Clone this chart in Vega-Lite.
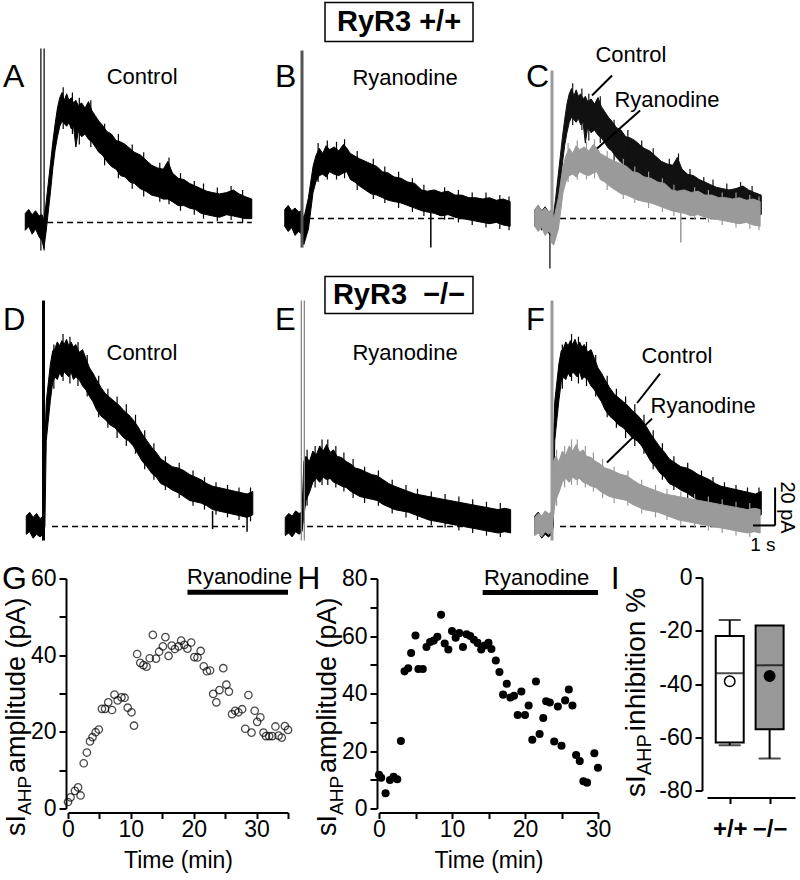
{
"$schema": "https://vega.github.io/schema/vega-lite/v6.json",
"padding": {"left": 0, "top": 1.5, "right": 0, "bottom": 0},
"background": "white",
"config": {
  "view": {"stroke": null},
  "font": "Liberation Sans",
  "text": {"font": "Liberation Sans", "color": "black"},
  "concat": {"spacing": 0},
  "axis": {"domainColor": "black", "tickColor": "black", "labelColor": "black", "titleColor": "black", "domainWidth": 2, "tickWidth": 2, "tickSize": 7, "labelFont": "Liberation Sans", "titleFont": "Liberation Sans", "labelFontSize": 23, "titleFontSize": 23, "titleFontWeight": "normal", "grid": false, "labelPadding": 3}
},
"datasets": {
  "ctrl1": [
    {"t":-0.75,"v":3.5,"v2":-3},{"t":-0.6,"v":5,"v2":-1.5},{"t":-0.45,"v":3,"v2":-4.5},{"t":-0.3,"v":4.5,"v2":-2.5},{"t":-0.15,"v":2.5,"v2":-5.5},{"t":-0.02,"v":3,"v2":-7},{"t":0.06,"v":1,"v2":-10},{"t":0.15,"v":7,"v2":-4},{"t":0.25,"v":15,"v2":4},{"t":0.35,"v":23,"v2":12},{"t":0.45,"v":31,"v2":21},{"t":0.55,"v":38,"v2":28},{"t":0.65,"v":44,"v2":33},{"t":0.75,"v":48,"v2":37},{"t":0.85,"v":50,"v2":39},{"t":0.95,"v":47,"v2":38},{"t":1.05,"v":49.5,"v2":37},{"t":1.15,"v":47,"v2":38.5},{"t":1.25,"v":48,"v2":36},{"t":1.35,"v":46,"v2":37},{"t":1.45,"v":47,"v2":29},{"t":1.55,"v":45,"v2":35},{"t":1.7,"v":46,"v2":33},{"t":1.85,"v":44,"v2":34},{"t":2.0,"v":46.5,"v2":32},{"t":2.15,"v":43,"v2":31},{"t":2.3,"v":41,"v2":29},{"t":2.45,"v":39,"v2":27},{"t":2.6,"v":37.5,"v2":26},{"t":2.8,"v":35,"v2":23.5},{"t":3.0,"v":34,"v2":21.5},{"t":3.2,"v":31.5,"v2":20.5},{"t":3.4,"v":31,"v2":18},{"t":3.6,"v":30,"v2":17.5},{"t":3.8,"v":28.5,"v2":15.5},{"t":4.0,"v":27,"v2":15},{"t":4.25,"v":26,"v2":13},{"t":4.5,"v":24,"v2":12},{"t":4.75,"v":22,"v2":10.5},{"t":5.0,"v":21,"v2":10},{"t":5.25,"v":20.5,"v2":9},{"t":5.45,"v":23.5,"v2":9},{"t":5.65,"v":19,"v2":8},{"t":5.9,"v":17,"v2":6.5},{"t":6.15,"v":16.5,"v2":6.5},{"t":6.4,"v":15,"v2":5.5},{"t":6.65,"v":14,"v2":5},{"t":6.9,"v":13,"v2":3.5},{"t":7.15,"v":12,"v2":3},{"t":7.4,"v":11.5,"v2":2.5},{"t":7.7,"v":11,"v2":2},{"t":8.0,"v":11.5,"v2":3},{"t":8.3,"v":12.5,"v2":2.5},{"t":8.55,"v":11,"v2":2},{"t":8.8,"v":10,"v2":1.5},{"t":9.1,"v":9,"v2":1.5}
  ],
  "sp_c1": [
    {"t":0.9,"v":52,"v2":36},{"t":1.3,"v":50,"v2":34},{"t":1.6,"v":48,"v2":30},{"t":2.1,"v":47,"v2":29},{"t":2.7,"v":38,"v2":22},{"t":3.3,"v":34,"v2":17},{"t":3.9,"v":30,"v2":13},{"t":4.4,"v":27,"v2":10},{"t":5.1,"v":23,"v2":8},{"t":5.5,"v":25,"v2":7},{"t":6.0,"v":19,"v2":4.5},{"t":6.6,"v":16,"v2":3},{"t":7.0,"v":15,"v2":1.5},{"t":7.6,"v":13.5,"v2":0.5},{"t":8.2,"v":14,"v2":1},{"t":8.7,"v":12.5,"v2":0}
  ],
  "ryan1": [
    {"t":-0.75,"v":3.5,"v2":-3},{"t":-0.6,"v":5,"v2":-5},{"t":-0.45,"v":3,"v2":-3.5},{"t":-0.3,"v":4,"v2":-6.5},{"t":-0.15,"v":2.5,"v2":-5},{"t":-0.02,"v":3,"v2":-6},{"t":0.08,"v":0,"v2":-10},{"t":0.18,"v":4,"v2":-7},{"t":0.28,"v":8,"v2":-4},{"t":0.38,"v":14,"v2":3},{"t":0.48,"v":20,"v2":10},{"t":0.6,"v":24,"v2":14},{"t":0.75,"v":27,"v2":16.5},{"t":0.9,"v":25,"v2":17},{"t":1.05,"v":28,"v2":16},{"t":1.2,"v":26.5,"v2":18},{"t":1.4,"v":27.5,"v2":17},{"t":1.6,"v":26,"v2":16.5},{"t":1.8,"v":28.5,"v2":17.5},{"t":1.95,"v":27,"v2":18},{"t":2.1,"v":25,"v2":15},{"t":2.3,"v":24,"v2":14},{"t":2.5,"v":23,"v2":12.5},{"t":2.75,"v":22,"v2":11},{"t":3.0,"v":21,"v2":9.5},{"t":3.25,"v":20,"v2":9},{"t":3.5,"v":18,"v2":8},{"t":3.75,"v":17.5,"v2":7},{"t":4.0,"v":16,"v2":6.5},{"t":4.3,"v":15.5,"v2":6},{"t":4.6,"v":14,"v2":5},{"t":4.9,"v":13.5,"v2":4},{"t":5.2,"v":11,"v2":3},{"t":5.45,"v":10.5,"v2":2.5},{"t":5.75,"v":11,"v2":2},{"t":6.05,"v":10,"v2":1},{"t":6.35,"v":10.5,"v2":1.5},{"t":6.65,"v":9,"v2":0.5},{"t":6.95,"v":9,"v2":0},{"t":7.25,"v":8,"v2":-0.5},{"t":7.55,"v":8,"v2":-1},{"t":7.85,"v":7.5,"v2":-1.5},{"t":8.15,"v":8,"v2":-2},{"t":8.45,"v":7,"v2":-1.5},{"t":8.75,"v":7.5,"v2":-2.5},{"t":9.05,"v":6.5,"v2":-3}
  ],
  "sp_r1": [
    {"t":0.7,"v":29,"v2":14},{"t":1.1,"v":30,"v2":15},{"t":1.5,"v":29.5,"v2":15},{"t":1.85,"v":30.5,"v2":15.5},{"t":2.4,"v":26,"v2":11},{"t":3.1,"v":23,"v2":7.5},{"t":3.6,"v":20,"v2":6},{"t":4.2,"v":18,"v2":4},{"t":4.8,"v":15.5,"v2":2.5},{"t":5.3,"v":13,"v2":1},{"t":6.2,"v":12,"v2":-0.5},{"t":6.8,"v":11,"v2":-1.5},{"t":7.4,"v":10,"v2":-2.5},{"t":8.0,"v":10,"v2":-3.5},{"t":8.6,"v":9,"v2":-4},{"t":9.0,"v":8.5,"v2":-4.5}
  ],
  "ctrl2": [
    {"t":-0.75,"v":4,"v2":-3},{"t":-0.6,"v":5.5,"v2":-2},{"t":-0.45,"v":3.5,"v2":-4.5},{"t":-0.3,"v":5,"v2":-3},{"t":-0.15,"v":3,"v2":-4},{"t":-0.02,"v":4,"v2":-3},{"t":0.06,"v":32,"v2":0},{"t":0.12,"v":48,"v2":33},{"t":0.2,"v":54.5,"v2":40},{"t":0.3,"v":62.5,"v2":48.5},{"t":0.4,"v":67.5,"v2":55.5},{"t":0.5,"v":68.5,"v2":57.5},{"t":0.6,"v":71,"v2":56.5},{"t":0.7,"v":69.5,"v2":59},{"t":0.8,"v":71.5,"v2":57.5},{"t":0.9,"v":70,"v2":59.5},{"t":1.0,"v":72,"v2":58.5},{"t":1.1,"v":69.5,"v2":57.5},{"t":1.2,"v":71,"v2":59.5},{"t":1.3,"v":69,"v2":56.5},{"t":1.4,"v":70,"v2":57.5},{"t":1.55,"v":67,"v2":56.5},{"t":1.7,"v":68,"v2":54},{"t":1.85,"v":64.5,"v2":52.5},{"t":2.0,"v":61,"v2":50},{"t":2.15,"v":59,"v2":48},{"t":2.3,"v":56.5,"v2":45},{"t":2.5,"v":53.5,"v2":42.5},{"t":2.7,"v":51,"v2":41},{"t":2.9,"v":49.5,"v2":39},{"t":3.1,"v":48,"v2":38},{"t":3.3,"v":46.5,"v2":36},{"t":3.5,"v":44.5,"v2":34},{"t":3.7,"v":43,"v2":33},{"t":3.9,"v":41,"v2":31},{"t":4.1,"v":38.5,"v2":28},{"t":4.3,"v":35.5,"v2":25},{"t":4.5,"v":33,"v2":23},{"t":4.7,"v":30.5,"v2":20.5},{"t":4.9,"v":28.5,"v2":19},{"t":5.1,"v":26,"v2":16.5},{"t":5.35,"v":24.5,"v2":15.5},{"t":5.6,"v":23,"v2":14},{"t":5.85,"v":22.5,"v2":13},{"t":6.1,"v":21.5,"v2":11.5},{"t":6.35,"v":20,"v2":10},{"t":6.6,"v":19,"v2":9.5},{"t":6.85,"v":18,"v2":9},{"t":7.1,"v":16.5,"v2":8},{"t":7.35,"v":15.5,"v2":6.5},{"t":7.6,"v":15,"v2":6},{"t":7.85,"v":14.5,"v2":5.5},{"t":8.1,"v":14,"v2":5},{"t":8.35,"v":13.5,"v2":4.5},{"t":8.6,"v":13,"v2":4},{"t":8.85,"v":12.5,"v2":3.5},{"t":9.1,"v":13.5,"v2":4.5}
  ],
  "sp_c2": [
    {"t":0.45,"v":70,"v2":53},{"t":0.85,"v":74,"v2":56},{"t":1.15,"v":73,"v2":55},{"t":1.5,"v":71,"v2":54},{"t":1.9,"v":66,"v2":50},{"t":2.4,"v":58,"v2":42},{"t":2.8,"v":53,"v2":38},{"t":3.2,"v":50,"v2":34},{"t":3.6,"v":47,"v2":31},{"t":4.0,"v":43,"v2":28},{"t":4.4,"v":37,"v2":22},{"t":4.8,"v":32,"v2":18},{"t":5.3,"v":27,"v2":14},{"t":5.9,"v":24.5,"v2":11},{"t":6.5,"v":21.5,"v2":8},{"t":7.0,"v":19,"v2":6.5},{"t":7.5,"v":17,"v2":4.5},{"t":8.0,"v":16,"v2":3.5},{"t":8.5,"v":15,"v2":2.5},{"t":9.0,"v":15,"v2":2}
  ],
  "ryan2": [
    {"t":-0.75,"v":3.5,"v2":-3.5},{"t":-0.6,"v":5,"v2":-2.5},{"t":-0.45,"v":4,"v2":-4},{"t":-0.3,"v":6,"v2":-2},{"t":-0.15,"v":5,"v2":-3},{"t":-0.02,"v":5.5,"v2":-2},{"t":0.06,"v":25,"v2":4},{"t":0.15,"v":27,"v2":10},{"t":0.3,"v":25,"v2":13},{"t":0.45,"v":29,"v2":17},{"t":0.6,"v":27.5,"v2":18.5},{"t":0.75,"v":31,"v2":17},{"t":0.9,"v":29,"v2":19},{"t":1.05,"v":31.5,"v2":18},{"t":1.2,"v":28.5,"v2":18.5},{"t":1.35,"v":29.5,"v2":17},{"t":1.5,"v":27,"v2":16.5},{"t":1.7,"v":26.5,"v2":15.5},{"t":1.9,"v":25,"v2":15},{"t":2.1,"v":24,"v2":13.5},{"t":2.3,"v":22.5,"v2":12.5},{"t":2.5,"v":22,"v2":11.5},{"t":2.75,"v":21,"v2":11},{"t":3.0,"v":20,"v2":10.5},{"t":3.25,"v":19.5,"v2":10},{"t":3.5,"v":18,"v2":8.5},{"t":3.75,"v":16.5,"v2":7.5},{"t":4.0,"v":15.5,"v2":6.5},{"t":4.3,"v":14.5,"v2":6},{"t":4.6,"v":13.5,"v2":5.5},{"t":4.9,"v":12.5,"v2":4.5},{"t":5.2,"v":12,"v2":3.5},{"t":5.5,"v":11.5,"v2":2.5},{"t":5.8,"v":11,"v2":2},{"t":6.1,"v":10.5,"v2":1.5},{"t":6.4,"v":10,"v2":1},{"t":6.7,"v":9.5,"v2":0.5},{"t":7.0,"v":9,"v2":0},{"t":7.3,"v":8.5,"v2":-0.5},{"t":7.6,"v":8,"v2":-1},{"t":7.9,"v":7.5,"v2":-1.5},{"t":8.2,"v":7,"v2":-2},{"t":8.5,"v":6.5,"v2":-2.5},{"t":8.8,"v":7,"v2":-2},{"t":9.05,"v":6.5,"v2":-2.5}
  ],
  "sp_r2": [
    {"t":0.2,"v":29.5,"v2":8},{"t":0.55,"v":31,"v2":15},{"t":0.85,"v":33.5,"v2":16},{"t":1.1,"v":33.5,"v2":16},{"t":1.45,"v":31,"v2":15},{"t":1.8,"v":28.5,"v2":13.5},{"t":2.2,"v":26,"v2":11},{"t":2.7,"v":23,"v2":9},{"t":3.3,"v":21.5,"v2":8},{"t":3.9,"v":18,"v2":5},{"t":4.5,"v":16,"v2":3.5},{"t":5.0,"v":14.5,"v2":2.5},{"t":5.6,"v":13.5,"v2":0.5},{"t":6.2,"v":12.5,"v2":-0.5},{"t":6.8,"v":11.5,"v2":-1.5},{"t":7.4,"v":10.5,"v2":-2.5},{"t":8.0,"v":9.5,"v2":-3.5},{"t":8.6,"v":9,"v2":-4}
  ],
  "g": [
    {"t":0,"v":1.7},{"t":0.4,"v":2.9},{"t":1.1,"v":4.6},{"t":1.6,"v":5.5},{"t":2.0,"v":3.4},{"t":2.5,"v":11.8},{"t":3.0,"v":14.6},{"t":3.5,"v":17.5},{"t":3.9,"v":18.6},{"t":4.4,"v":19.9},{"t":4.9,"v":20.6},{"t":5.4,"v":26},{"t":5.9,"v":26},{"t":6.4,"v":27.7},{"t":7.0,"v":25.7},{"t":7.4,"v":29.7},{"t":7.9,"v":28.2},{"t":8.5,"v":29},{"t":9.0,"v":28.9},{"t":9.5,"v":26.3},{"t":10.1,"v":25.1},{"t":10.5,"v":21.6},{"t":11.0,"v":40.3},{"t":11.5,"v":38},{"t":12.0,"v":37.4},{"t":12.5,"v":37},{"t":13.0,"v":39.2},{"t":13.5,"v":45.3},{"t":14.0,"v":39.1},{"t":14.5,"v":40.9},{"t":15.1,"v":42.3},{"t":15.5,"v":44.7},{"t":16.0,"v":39.8},{"t":16.5,"v":42.5},{"t":17.0,"v":41.6},{"t":17.6,"v":42.3},{"t":18.0,"v":43.8},{"t":18.5,"v":42.7},{"t":19.0,"v":41.7},{"t":19.6,"v":43.3},{"t":20.1,"v":39.5},{"t":20.6,"v":39.4},{"t":21.1,"v":41.1},{"t":21.6,"v":37.1},{"t":22.1,"v":35.8},{"t":22.6,"v":36},{"t":23.1,"v":29.9},{"t":23.6,"v":27.7},{"t":24.1,"v":30.9},{"t":24.7,"v":36.6},{"t":25.2,"v":32.3},{"t":25.6,"v":30.5},{"t":26.1,"v":24.6},{"t":26.6,"v":25.5},{"t":27.1,"v":25.1},{"t":27.7,"v":25.9},{"t":28.2,"v":20.8},{"t":28.7,"v":29.6},{"t":29.2,"v":19.8},{"t":29.7,"v":25.5},{"t":30.1,"v":22.6},{"t":30.6,"v":23.8},{"t":31.1,"v":19.8},{"t":31.5,"v":18.9},{"t":32.0,"v":18.9},{"t":32.5,"v":18.9},{"t":33.0,"v":21.4},{"t":33.5,"v":19},{"t":34.0,"v":18.5},{"t":34.5,"v":21.5},{"t":35.0,"v":20.5}
  ],
  "h": [
    {"t":0,"v":11.7},{"t":0.3,"v":10.7},{"t":0.9,"v":5.3},{"t":1.5,"v":9.9},{"t":2.0,"v":11},{"t":2.5,"v":10.2},{"t":3.0,"v":23.5},{"t":3.5,"v":47.7},{"t":4.0,"v":48.8},{"t":4.4,"v":54.1},{"t":5.0,"v":60.2},{"t":5.4,"v":48.5},{"t":6.0,"v":48.5},{"t":6.5,"v":56.2},{"t":7.0,"v":57.9},{"t":7.5,"v":58.4},{"t":8.0,"v":59.7},{"t":8.5,"v":67.4},{"t":9.0,"v":57.4},{"t":9.5,"v":55.3},{"t":10.0,"v":61.7},{"t":10.5,"v":59.4},{"t":11.0,"v":61},{"t":11.5,"v":56.2},{"t":12.0,"v":60.6},{"t":12.5,"v":60},{"t":13.0,"v":58.7},{"t":13.5,"v":57.6},{"t":14.0,"v":55.3},{"t":14.5,"v":56.7},{"t":15.0,"v":57.6},{"t":15.4,"v":55.5},{"t":16.0,"v":51.5},{"t":16.5,"v":47.5},{"t":17.0,"v":39.6},{"t":17.5,"v":43.4},{"t":18.0,"v":38.6},{"t":18.5,"v":39.2},{"t":19.0,"v":32.5},{"t":19.5,"v":40.7},{"t":20.0,"v":32.5},{"t":20.5,"v":35.8},{"t":21.0,"v":23.9},{"t":21.5,"v":44.2},{"t":22.0,"v":25.9},{"t":22.5,"v":31.5},{"t":22.9,"v":37.3},{"t":23.4,"v":36.9},{"t":24.0,"v":23.3},{"t":24.5,"v":35.5},{"t":25.0,"v":21.8},{"t":25.5,"v":37.6},{"t":26.0,"v":41.4},{"t":26.5,"v":35.8},{"t":27.0,"v":18.6},{"t":27.5,"v":16.5},{"t":28.0,"v":9.5},{"t":28.5,"v":9.0},{"t":29.5,"v":19.2},{"t":30.0,"v":14.2}
  ]
},
"vconcat": [
  {"hconcat": [
    {"width": 325, "height": 39, "data": {"values": []}, "mark": "point"},
    {"width": 148, "height": 39, "view": {"stroke": "black", "strokeWidth": 1.5}, "data": {"values": [{"lab": "RyR3 +/+"}]}, "mark": {"type": "text", "fontSize": 29, "fontWeight": "bold", "baseline": "middle"}, "encoding": {"text": {"field": "lab"}}}
  ], "spacing": 0, "bounds": "flush", "align": "each"},
  {"hconcat": [
    {"width": 265, "height": 232,
     "encoding": {
       "x": {"field": "t", "type": "quantitative", "scale": {"domain": [-1.848, 9.674], "nice": false, "zero": false}, "axis": null},
       "y": {"field": "v", "type": "quantitative", "scale": {"domain": [-20.0, 69.23], "nice": false, "zero": false}, "axis": null}},
     "layer": [
       {"data": {"values": [{"t": 0.2, "t2": 9.1, "v": 0}]}, "mark": {"type": "rule", "strokeDash": [6, 4], "strokeWidth": 1.5, "color": "black"}, "encoding": {"x2": {"field": "t2"}}},
       {"data": {"name": "ctrl1"}, "mark": {"type": "area", "color": "black", "stroke": "black", "strokeWidth": 1}, "encoding": {"y2": {"field": "v2"}}},
       {"data": {"name": "sp_c1"}, "mark": {"type": "rule", "strokeWidth": 1.2, "color": "black"}, "encoding": {"y2": {"field": "v2"}}},
       {"data": {"values": [{"t": -0.07, "v": 66.9, "v2": -10.8}, {"t": 0.07, "v": 66.9, "v2": -10.8}]}, "mark": {"type": "rule", "strokeWidth": 1.2, "color": "black"}, "encoding": {"y2": {"field": "v2"}}},
       {"data": {"values": [{"t": 4.33, "v": 55.8, "label": "Control"}]}, "mark": {"type": "text", "fontSize": 22, "baseline": "middle"}, "encoding": {"text": {"field": "label"}}},
       {"data": {"values": [{"t": -1.72, "v": 52.1, "label": "A"}]}, "mark": {"type": "text", "fontSize": 32, "align": "left", "baseline": "alphabetic"}, "encoding": {"text": {"field": "label"}}}
     ]},
    {"width": 255, "height": 232,
     "encoding": {
       "x": {"field": "t", "type": "quantitative", "scale": {"domain": [-1.609, 9.478], "nice": false, "zero": false}, "axis": null},
       "y": {"field": "v", "type": "quantitative", "scale": {"domain": [-21.54, 67.69], "nice": false, "zero": false}, "axis": null}},
     "layer": [
       {"data": {"values": [{"t": 0.26, "t2": 9.05, "v": 0}]}, "mark": {"type": "rule", "strokeDash": [6, 4], "strokeWidth": 1.5, "color": "black"}, "encoding": {"x2": {"field": "t2"}}},
       {"data": {"name": "ryan1"}, "mark": {"type": "area", "color": "black", "stroke": "black", "strokeWidth": 1}, "encoding": {"y2": {"field": "v2"}}},
       {"data": {"name": "sp_r1"}, "mark": {"type": "rule", "strokeWidth": 1.2, "color": "black"}, "encoding": {"y2": {"field": "v2"}}},
       {"data": {"values": [{"t": 0, "v": 64.6, "v2": -11.2}]}, "mark": {"type": "rule", "strokeWidth": 3, "color": "#555555"}, "encoding": {"y2": {"field": "v2"}}},
       {"data": {"values": [{"t": 5.6, "v": 3, "v2": -11.2}]}, "mark": {"type": "rule", "strokeWidth": 1.5, "color": "black"}, "encoding": {"y2": {"field": "v2"}}},
       {"data": {"values": [{"t": 4.48, "v": 54.2, "label": "Ryanodine"}]}, "mark": {"type": "text", "fontSize": 22, "baseline": "middle"}, "encoding": {"text": {"field": "label"}}},
       {"data": {"values": [{"t": -1.17, "v": 50.6, "label": "B"}]}, "mark": {"type": "text", "fontSize": 32, "align": "left", "baseline": "alphabetic"}, "encoding": {"text": {"field": "label"}}}
     ]},
    {"width": 280, "height": 232,
     "encoding": {
       "x": {"field": "t", "type": "quantitative", "scale": {"domain": [-1.391, 10.783], "nice": false, "zero": false}, "axis": null},
       "y": {"field": "v", "type": "quantitative", "scale": {"domain": [-21.54, 67.69], "nice": false, "zero": false}, "axis": null}},
     "layer": [
       {"data": {"values": [{"t": 0.35, "t2": 9.05, "v": 0}]}, "mark": {"type": "rule", "strokeDash": [6, 4], "strokeWidth": 1.5, "color": "black"}, "encoding": {"x2": {"field": "t2"}}},
       {"data": {"values": [{"t": -0.09, "v": 3, "v2": -19.2}]}, "mark": {"type": "rule", "strokeWidth": 1.2, "color": "black"}, "encoding": {"y2": {"field": "v2"}}},
       {"data": {"name": "ctrl1"}, "mark": {"type": "area", "color": "#111111", "stroke": "#111111", "strokeWidth": 1}, "encoding": {"y2": {"field": "v2"}}},
       {"data": {"name": "sp_c1"}, "mark": {"type": "rule", "strokeWidth": 1.2, "color": "#111111"}, "encoding": {"y2": {"field": "v2"}}},
       {"data": {"name": "ryan1"}, "mark": {"type": "area", "color": "#9a9a9a", "stroke": "#9a9a9a", "strokeWidth": 1}, "encoding": {"y2": {"field": "v2"}}},
       {"data": {"name": "sp_r1"}, "mark": {"type": "rule", "strokeWidth": 1.2, "color": "#9a9a9a"}, "encoding": {"y2": {"field": "v2"}}},
       {"data": {"values": [{"t": 0, "v": 56.9, "v2": -9.6}]}, "mark": {"type": "rule", "strokeWidth": 3, "color": "#9a9a9a"}, "encoding": {"y2": {"field": "v2"}}},
       {"data": {"values": [{"t": 5.6, "v": 3, "v2": -9.2}]}, "mark": {"type": "rule", "strokeWidth": 1.5, "color": "#9a9a9a"}, "encoding": {"y2": {"field": "v2"}}},
       {"data": {"values": [{"t": 2.61, "v": 55.0, "t2": 1.74, "v2": 47.3}, {"t": 3.83, "v": 41.5, "t2": 1.96, "v2": 26.9}]}, "mark": {"type": "rule", "strokeWidth": 2, "color": "black"}, "encoding": {"x2": {"field": "t2"}, "y2": {"field": "v2"}}},
       {"data": {"values": [{"t": 3.43, "v": 62.7, "label": "Control"}, {"t": 5.0, "v": 45.4, "label": "Ryanodine"}]}, "mark": {"type": "text", "fontSize": 22, "baseline": "middle"}, "encoding": {"text": {"field": "label"}}},
       {"data": {"values": [{"t": -1.13, "v": 50.6, "label": "C"}]}, "mark": {"type": "text", "fontSize": 32, "align": "left", "baseline": "alphabetic"}, "encoding": {"text": {"field": "label"}}}
     ]}
  ], "spacing": 0, "bounds": "flush", "align": "each"},
  {"hconcat": [
    {"width": 265, "height": 286,
     "encoding": {
       "x": {"field": "t", "type": "quantitative", "scale": {"domain": [-1.891, 9.630], "nice": false, "zero": false}, "axis": null},
       "y": {"field": "v", "type": "quantitative", "scale": {"domain": [-13.08, 96.92], "nice": false, "zero": false}, "axis": null}},
     "layer": [
       {"data": {"values": [{"t": 0.37, "t2": 8.76, "v": 0}]}, "mark": {"type": "rule", "strokeDash": [6, 4], "strokeWidth": 1.5, "color": "black"}, "encoding": {"x2": {"field": "t2"}}},
       {"data": {"name": "ctrl2"}, "mark": {"type": "area", "color": "black", "stroke": "black", "strokeWidth": 1}, "encoding": {"y2": {"field": "v2"}}},
       {"data": {"name": "sp_c2"}, "mark": {"type": "rule", "strokeWidth": 1.2, "color": "black"}, "encoding": {"y2": {"field": "v2"}}},
       {"data": {"values": [{"t": 0, "v": 86.9, "v2": -5.4}]}, "mark": {"type": "rule", "strokeWidth": 3, "color": "black"}, "encoding": {"y2": {"field": "v2"}}},
       {"data": {"values": [{"t": 7.35, "v": 6, "v2": -1}, {"t": 8.85, "v": 4, "v2": -2}]}, "mark": {"type": "rule", "strokeWidth": 1.5, "color": "black"}, "encoding": {"y2": {"field": "v2"}}},
       {"data": {"values": [{"t": 4.28, "v": 66.9, "label": "Control"}]}, "mark": {"type": "text", "fontSize": 22, "baseline": "middle"}, "encoding": {"text": {"field": "label"}}},
       {"data": {"values": [{"t": -1.76, "v": 75.6, "label": "D"}]}, "mark": {"type": "text", "fontSize": 31, "align": "left", "baseline": "alphabetic"}, "encoding": {"text": {"field": "label"}}}
     ]},
    {"width": 255, "height": 286,
     "encoding": {
       "x": {"field": "t", "type": "quantitative", "scale": {"domain": [-1.630, 9.457], "nice": false, "zero": false}, "axis": null},
       "y": {"field": "v", "type": "quantitative", "scale": {"domain": [-13.08, 96.92], "nice": false, "zero": false}, "axis": null}},
     "layer": [
       {"data": {"values": [{"t": 0.978, "t2": 7.413, "v": 96.15, "v2": 81.9}]}, "mark": {"type": "rect", "filled": false, "color": "black", "strokeWidth": 1.5}, "encoding": {"x2": {"field": "t2"}, "y2": {"field": "v2"}}},
       {"data": {"values": [{"t": 4.196, "v": 89.0, "label": "RyR3\u00a0 \u2212/\u2212"}]}, "mark": {"type": "text", "fontSize": 29, "fontWeight": "bold", "baseline": "middle"}, "encoding": {"text": {"field": "label"}}},
       {"data": {"values": [{"t": 0.2, "t2": 9.0, "v": 0}]}, "mark": {"type": "rule", "strokeDash": [6, 4], "strokeWidth": 1.5, "color": "black"}, "encoding": {"x2": {"field": "t2"}}},
       {"data": {"name": "ryan2"}, "mark": {"type": "area", "color": "black", "stroke": "black", "strokeWidth": 1}, "encoding": {"y2": {"field": "v2"}}},
       {"data": {"name": "sp_r2"}, "mark": {"type": "rule", "strokeWidth": 1.2, "color": "black"}, "encoding": {"y2": {"field": "v2"}}},
       {"data": {"values": [{"t": -0.05, "v": 86.9, "v2": -5.4}, {"t": 0.08, "v": 86.9, "v2": -5.4}]}, "mark": {"type": "rule", "strokeWidth": 1.3, "color": "#888888"}, "encoding": {"y2": {"field": "v2"}}},
       {"data": {"values": [{"t": 4.46, "v": 66.9, "label": "Ryanodine"}]}, "mark": {"type": "text", "fontSize": 22, "baseline": "middle"}, "encoding": {"text": {"field": "label"}}},
       {"data": {"values": [{"t": -1.2, "v": 75.6, "label": "E"}]}, "mark": {"type": "text", "fontSize": 31, "align": "left", "baseline": "alphabetic"}, "encoding": {"text": {"field": "label"}}}
     ]},
    {"width": 280, "height": 286,
     "encoding": {
       "x": {"field": "t", "type": "quantitative", "scale": {"domain": [-1.391, 10.783], "nice": false, "zero": false}, "axis": null},
       "y": {"field": "v", "type": "quantitative", "scale": {"domain": [-13.08, 96.92], "nice": false, "zero": false}, "axis": null}},
     "layer": [
       {"data": {"values": [{"t": 0.35, "t2": 9.0, "v": 0}]}, "mark": {"type": "rule", "strokeDash": [6, 4], "strokeWidth": 1.5, "color": "black"}, "encoding": {"x2": {"field": "t2"}}},
       {"data": {"name": "ctrl2"}, "mark": {"type": "area", "color": "black", "stroke": "black", "strokeWidth": 1}, "encoding": {"y2": {"field": "v2"}}},
       {"data": {"name": "sp_c2"}, "mark": {"type": "rule", "strokeWidth": 1.2, "color": "black"}, "encoding": {"y2": {"field": "v2"}}},
       {"data": {"name": "ryan2"}, "mark": {"type": "area", "color": "#9a9a9a", "stroke": "#9a9a9a", "strokeWidth": 1}, "encoding": {"y2": {"field": "v2"}}},
       {"data": {"name": "sp_r2"}, "mark": {"type": "rule", "strokeWidth": 1.2, "color": "#9a9a9a"}, "encoding": {"y2": {"field": "v2"}}},
       {"data": {"values": [{"t": 0, "v": 86.9, "v2": -5.4}]}, "mark": {"type": "rule", "strokeWidth": 3, "color": "#9a9a9a"}, "encoding": {"y2": {"field": "v2"}}},
       {"data": {"values": [{"t": 4.70, "v": 58.8, "t2": 3.70, "v2": 47.5}, {"t": 4.35, "v": 41.5, "t2": 2.39, "v2": 24.6}]}, "mark": {"type": "rule", "strokeWidth": 2, "color": "black"}, "encoding": {"x2": {"field": "t2"}, "y2": {"field": "v2"}}},
       {"data": {"values": [{"t": 5.43, "v": 65.4, "label": "Control"}, {"t": 6.57, "v": 46.5, "label": "Ryanodine"}]}, "mark": {"type": "text", "fontSize": 22, "baseline": "middle"}, "encoding": {"text": {"field": "label"}}},
       {"data": {"values": [{"t": 9.70, "v": 15.0, "t2": 9.70, "v2": 0.4}, {"t": 8.74, "v": 0.4, "t2": 9.70, "v2": 0.4}]}, "mark": {"type": "rule", "strokeWidth": 2, "color": "black"}, "encoding": {"x2": {"field": "t2"}, "y2": {"field": "v2"}}},
       {"data": {"values": [{"t": 10.22, "v": 7.3, "label": "20 pA"}]}, "mark": {"type": "text", "fontSize": 20, "angle": 90, "baseline": "middle"}, "encoding": {"text": {"field": "label"}}},
       {"data": {"values": [{"t": 9.17, "v": -7.3, "label": "1 s"}]}, "mark": {"type": "text", "fontSize": 19, "baseline": "middle"}, "encoding": {"text": {"field": "label"}}},
       {"data": {"values": [{"t": -1.13, "v": 75.6, "label": "F"}]}, "mark": {"type": "text", "fontSize": 31, "align": "left", "baseline": "alphabetic"}, "encoding": {"text": {"field": "label"}}}
     ]}
  ], "spacing": 0, "bounds": "flush", "align": "each"},
  {"hconcat": [
    {"width": 68, "height": 10, "data": {"values": []}, "mark": "point"},
    {"width": 220, "height": 248,
     "encoding": {
       "x": {"field": "t", "type": "quantitative", "scale": {"domain": [0, 35], "nice": false, "zero": false},
             "axis": {"values": [0, 5, 10, 15, 20, 25, 30, 35], "labelExpr": "datum.value % 10 == 0 ? datum.label : ''", "offset": 4, "tickSize": 6, "labelPadding": 0, "title": "Time (min)", "titlePadding": 8, "labelFlush": false}},
       "y": {"field": "v", "type": "quantitative", "scale": {"domain": [0, 60], "range": [248, 18], "nice": false, "zero": false},
             "axis": {"values": [0, 10, 20, 30, 40, 50, 60], "labelExpr": "datum.value % 20 == 0 ? datum.label : ''", "offset": 2, "title": null}}},
     "layer": [
       {"data": {"name": "g"}, "mark": {"type": "point", "shape": "circle", "filled": false, "color": "black", "strokeWidth": 1.3, "size": 55}},
       {"data": {"values": [{"t": 19, "t2": 35, "v": 56.4}]}, "mark": {"type": "rule", "strokeWidth": 5, "color": "black"}, "encoding": {"x2": {"field": "t2"}}},
       {"data": {"values": [{"t": 27.3, "v": 60.3, "label": "Ryanodine"}]}, "mark": {"type": "text", "fontSize": 22, "baseline": "middle"}, "encoding": {"text": {"field": "label"}}},
       {"data": {"values": [{"t": -10.5, "v": 57.3, "label": "G"}]}, "mark": {"type": "text", "fontSize": 32, "align": "left", "baseline": "alphabetic"}, "encoding": {"text": {"field": "label"}}},
       {"data": {"values": [{"t": -6.84, "v": -7.17, "label": "sI"}, {"t": -6.84, "v": 9.26, "label": "amplitude (pA)"}]}, "mark": {"type": "text", "fontSize": 27, "angle": 270, "align": "left", "baseline": "alphabetic"}, "encoding": {"text": {"field": "label"}}},
       {"data": {"values": [{"t": -5.81, "v": -1.70, "label": "AHP"}]}, "mark": {"type": "text", "fontSize": 19, "angle": 270, "align": "left", "baseline": "alphabetic"}, "encoding": {"text": {"field": "label"}}}
     ]},
    {"width": 91, "height": 10, "data": {"values": []}, "mark": "point"},
    {"width": 219, "height": 248,
     "encoding": {
       "x": {"field": "t", "type": "quantitative", "scale": {"domain": [0, 30], "nice": false, "zero": false},
             "axis": {"values": [0, 5, 10, 15, 20, 25, 30], "labelExpr": "datum.value % 10 == 0 ? datum.label : ''", "offset": 4, "tickSize": 6, "labelPadding": 0, "title": "Time (min)", "titlePadding": 8, "labelFlush": false}},
       "y": {"field": "v", "type": "quantitative", "scale": {"domain": [0, 80], "range": [248, 18], "nice": false, "zero": false},
             "axis": {"values": [0, 10, 20, 30, 40, 50, 60, 70, 80], "labelExpr": "datum.value % 20 == 0 ? datum.label : ''", "offset": 2, "title": null}}},
     "layer": [
       {"data": {"name": "h"}, "mark": {"type": "point", "shape": "circle", "filled": true, "color": "black", "size": 65, "opacity": 1}},
       {"data": {"values": [{"t": 14.2, "t2": 30, "v": 75.1}]}, "mark": {"type": "rule", "strokeWidth": 5, "color": "black"}, "encoding": {"x2": {"field": "t2"}}},
       {"data": {"values": [{"t": 21.6, "v": 80.3, "label": "Ryanodine"}]}, "mark": {"type": "text", "fontSize": 22, "baseline": "middle"}, "encoding": {"text": {"field": "label"}}},
       {"data": {"values": [{"t": -11.2, "v": 76.3, "label": "H"}]}, "mark": {"type": "text", "fontSize": 32, "align": "left", "baseline": "alphabetic"}, "encoding": {"text": {"field": "label"}}},
       {"data": {"values": [{"t": -5.89, "v": -9.57, "label": "sI"}, {"t": -5.89, "v": 12.35, "label": "amplitude (pA)"}]}, "mark": {"type": "text", "fontSize": 27, "angle": 270, "align": "left", "baseline": "alphabetic"}, "encoding": {"text": {"field": "label"}}},
       {"data": {"values": [{"t": -5.0, "v": -2.26, "label": "AHP"}]}, "mark": {"type": "text", "fontSize": 19, "angle": 270, "align": "left", "baseline": "alphabetic"}, "encoding": {"text": {"field": "label"}}}
     ]},
    {"width": 109, "height": 10, "data": {"values": []}, "mark": "point"},
    {"width": 88, "height": 230,
     "encoding": {
       "x": {"field": "g", "type": "quantitative", "scale": {"domain": [0.5556, 2.5111], "nice": false, "zero": false},
             "axis": {"values": [1, 2], "labelExpr": "datum.value == 1 ? '+/+' : '\u2212/\u2212'", "labelFontWeight": "bold", "labelFontSize": 24, "offset": 7, "tickSize": 6, "labelPadding": 14, "title": null}},
       "y": {"field": "v", "type": "quantitative", "scale": {"domain": [-80, 0], "range": [230, 17], "nice": false, "zero": false},
             "axis": {"values": [0, -20, -40, -60, -80], "labelExpr": "datum.value == 0 ? '0' : '-' + abs(datum.value)", "offset": 5, "title": null}}},
     "layer": [
       {"data": {"values": [{"g": 1, "v": -16, "v2": -22}, {"g": 1, "v": -62, "v2": -63}, {"g": 2, "v": -57, "v2": -68}]}, "mark": {"type": "rule", "strokeWidth": 2, "color": "black"}, "encoding": {"y2": {"field": "v2"}}},
       {"data": {"values": [{"g": 1, "v": -22, "v2": -62}, {"g": 2, "v": -18, "v2": -57}]}, "mark": {"type": "bar", "orient": "vertical", "size": 28, "stroke": "black", "strokeWidth": 2}, "encoding": {"y2": {"field": "v2"}, "fill": {"condition": {"test": "datum.g == 1", "value": "white"}, "value": "#999999"}}},
       {"data": {"values": [{"g": 1, "v": -16}, {"g": 1, "v": -63}, {"g": 2, "v": -68}]}, "mark": {"type": "tick", "orient": "horizontal", "size": 22, "thickness": 2, "color": "black"}},
       {"data": {"values": [{"g": 1, "v": -36}, {"g": 2, "v": -33}]}, "mark": {"type": "tick", "orient": "horizontal", "size": 28, "thickness": 2, "color": "black"}},
       {"data": {"values": [{"g": 1, "v": -39}, {"g": 2, "v": -37}]}, "mark": {"type": "point", "shape": "circle", "filled": true, "size": 110, "stroke": "black", "strokeWidth": 1.5, "opacity": 1}, "encoding": {"fill": {"condition": {"test": "datum.g == 1", "value": "white"}, "value": "black"}}},
       {"data": {"values": [{"g": -1.98, "v": -4.32, "label": "I"}]}, "mark": {"type": "text", "fontSize": 32, "align": "left", "baseline": "alphabetic"}, "encoding": {"text": {"field": "label"}}},
       {"data": {"values": [{"g": -1.133, "v": -82.4, "label": "sI"}, {"g": -1.133, "v": -57.7, "label": "inhibition %"}]}, "mark": {"type": "text", "fontSize": 28, "angle": 270, "align": "left", "baseline": "alphabetic"}, "encoding": {"text": {"field": "label"}}},
       {"data": {"values": [{"g": -0.978, "v": -74.3, "label": "AHP"}]}, "mark": {"type": "text", "fontSize": 20, "angle": 270, "align": "left", "baseline": "alphabetic"}, "encoding": {"text": {"field": "label"}}}
     ]}
  ], "spacing": 0, "bounds": "flush", "align": "each"}
], "spacing": 0, "align": "each"
}
